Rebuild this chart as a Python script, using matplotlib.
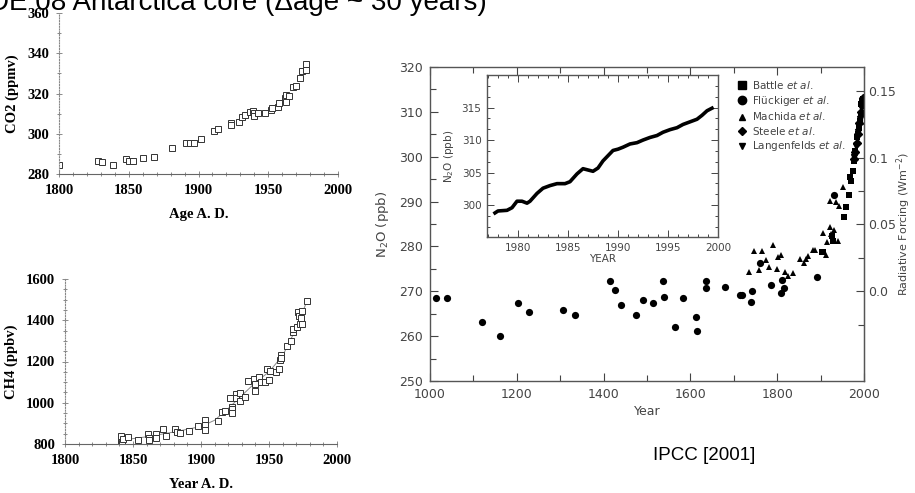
import matplotlib
matplotlib.use("Agg")
import matplotlib.pyplot as plt
from matplotlib.ticker import MultipleLocator, FixedLocator
from matplotlib.lines import Line2D

# ---- DE08 Antarctica core, CO2 ----
co2_year = [1800, 1828, 1831, 1839, 1848, 1850, 1853, 1860, 1868, 1881, 1891, 1894,
            1897, 1902, 1911, 1914, 1923, 1923, 1929, 1931, 1933, 1937, 1939, 1940,
            1940, 1943, 1948, 1952, 1953, 1957, 1958, 1962, 1962.5, 1963, 1965, 1968,
            1970, 1973, 1974.5, 1977, 1977]
co2_ppmv = [284.5, 286.5, 286.0, 284.5, 287.6, 286.6, 286.3, 288.0, 288.6, 293.0, 295.6, 295.6,
            295.6, 297.4, 301.6, 302.2, 305.5, 304.5, 305.7, 308.2, 309.4, 311.0, 311.5, 310.5,
            308.8, 310.2, 310.5, 311.8, 313.0, 313.5, 315.5, 317.6, 319.3, 316.0, 319.0, 323.0,
            323.8, 327.6, 331.0, 331.7, 334.7]

# ---- DE08 Antarctica core, CH4 ----
ch4_year = [1841, 1841, 1842, 1843, 1846, 1854, 1861, 1862, 1862, 1867, 1867, 1872,
            1874.5, 1881, 1882, 1884.5, 1891, 1898, 1903, 1903, 1903, 1912.5, 1915.6, 1918,
            1921, 1922.5, 1922.5, 1922.5, 1926, 1926, 1928.6, 1928.6, 1932, 1934.5, 1939, 1940,
            1940, 1942.5, 1944, 1947, 1948.7, 1950, 1951, 1955, 1957.5, 1958, 1959, 1959,
            1963, 1966, 1967.5, 1968, 1970.7, 1971, 1971.8, 1972.6, 1973.6, 1974.3, 1974.3, 1978]
ch4_ppbv = [840, 811, 803, 823, 832, 818, 847, 828, 820, 847, 829, 873,
            840, 873, 860, 853, 862, 886, 918, 894, 868, 913, 957, 962,
            1023, 981, 968, 949, 1041, 1022, 1049, 1010, 1030, 1106, 1114, 1090,
            1059, 1124, 1101, 1101, 1164, 1111, 1155, 1151, 1164, 1208, 1232, 1216,
            1276, 1300, 1341, 1357, 1367, 1438, 1419, 1383, 1410, 1443, 1383, 1495]
ch4_fit_year = [1841, 1860, 1880, 1900, 1910, 1920, 1930, 1940, 1950, 1960, 1970, 1978]
ch4_fit_ppbv = [818, 835, 858, 885, 915, 972, 1035, 1098, 1150, 1228, 1360, 1495]

# ---- IPCC 2001, N2O ----
flueckiger_year = [1014, 1040, 1119, 1162, 1203, 1228, 1306, 1333, 1414, 1427, 1440, 1475,
                   1491, 1514, 1538, 1539, 1564, 1582, 1614, 1616, 1635, 1637, 1679, 1714,
                   1720, 1739, 1741, 1760, 1786, 1808, 1810, 1815, 1891, 1932]
flueckiger_n2o = [268.5, 268.5, 263.2, 260.1, 267.5, 265.4, 265.8, 264.8, 272.3, 270.2, 266.9, 264.8,
                  268.1, 267.3, 272.4, 268.7, 262.1, 268.4, 264.2, 261.2, 270.7, 272.3, 270.9, 269.1,
                  269.1, 267.6, 270.1, 276.3, 271.3, 269.6, 272.6, 270.8, 273.2, 291.5]
machida_year = [1736, 1746, 1758, 1766, 1775, 1781, 1790, 1800, 1801, 1809, 1817, 1826,
                1836, 1853, 1861, 1867, 1872, 1882, 1888, 1905, 1913, 1914, 1922, 1924,
                1932, 1940, 1922, 1936, 1943, 1951]
machida_n2o = [274.3, 278.9, 274.7, 278.9, 276.9, 275.4, 280.4, 275.0, 277.6, 278.2, 274.2, 273.4,
               274.1, 277.1, 276.3, 277.3, 277.8, 279.1, 279.3, 283.0, 278.0, 281.0, 284.3, 282.7,
               283.7, 281.1, 290.2, 289.8, 289.1, 293.3]
battle_year = [1903, 1906, 1926, 1929, 1954, 1958, 1966, 1968, 1970, 1974, 1977, 1979,
               1983, 1986, 1988, 1990, 1992, 1994, 1996, 1997]
battle_n2o = [278.7, 278.7, 282.3, 281.2, 286.5, 288.7, 291.5, 295.4, 294.5, 296.9, 299.1, 301.3,
              304.3, 305.0, 306.5, 308.0, 309.5, 311.7, 312.3, 312.8]
steele_year = [1978, 1980, 1983, 1986, 1989, 1992, 1995, 1997]
steele_n2o = [299.5, 301.0, 303.0, 305.0, 307.5, 310.0, 311.5, 313.0]
langenfelds_year = [1978, 1982, 1986, 1990, 1994, 1996]
langenfelds_n2o = [300.0, 302.5, 305.5, 308.5, 311.0, 312.5]

# ---- inset: modern N2O record ----
inset_year = [1977.7, 1978.0, 1978.9, 1979.4, 1979.9, 1980.4, 1980.9, 1981.2, 1981.9, 1982.5,
              1983.2, 1983.9, 1984.7, 1985.2, 1985.9, 1986.5, 1987.0, 1987.5, 1988.0, 1988.5,
              1989.0, 1989.5, 1990.0, 1990.5, 1991.2, 1991.9, 1992.5, 1993.2, 1993.9, 1994.5,
              1995.2, 1995.9, 1996.5, 1997.2, 1997.9, 1998.4, 1998.9, 1999.4]
inset_n2o = [298.8, 299.1, 299.2, 299.6, 300.6, 300.6, 300.3, 300.6, 301.8, 302.6,
             303.0, 303.3, 303.3, 303.6, 304.8, 305.6, 305.4, 305.2, 305.7, 306.8,
             307.6, 308.4, 308.6, 308.9, 309.4, 309.6, 310.0, 310.4, 310.7, 311.2,
             311.6, 311.9, 312.4, 312.8, 313.2, 313.8, 314.5, 314.9]

W, H = 915, 493
fig = plt.figure(figsize=(W / 100, H / 100), dpi=100)

def box(x0, y0, x1, y1):
    # pixel box -> figure fraction
    return [x0 / W, 1 - y1 / H, (x1 - x0) / W, (y1 - y0) / H]

serif = {'family': 'Liberation Serif', 'weight': 'bold'}
grey = '#333333'

# title, clipped at the top of the figure
fig.text(-0.012, 1 - 10 / H, "DE 08 Antarctica core (\u0394age ~ 30 years)",
         fontsize=20, family='Liberation Sans', va='baseline', ha='left')

def left_panel(ax):
    for s in ['top', 'right']:
        ax.spines[s].set_visible(False)
    ax.spines['left'].set_linestyle((0, (1, 1.5)))
    ax.spines['left'].set_color('#888888')
    ax.spines['left'].set_linewidth(0.8)
    ax.spines['bottom'].set_color('#666666')
    ax.spines['bottom'].set_linewidth(0.8)
    ax.tick_params(which='both', direction='inout', colors='#777777', labelcolor='black',
                   width=0.6)
    ax.tick_params(which='major', length=4, pad=5)
    ax.tick_params(which='minor', length=2.5)
    for lab in ax.get_xticklabels() + ax.get_yticklabels():
        lab.set_fontproperties(serif)
        lab.set_fontsize(10.5)

# CO2 panel
ax1 = fig.add_axes(box(59, 13, 338, 174))
ax1.plot(co2_year, co2_ppmv, 's', ms=5, mfc='white', mec=grey, mew=0.7)
ax1.set_xlim(1800, 2000)
ax1.set_ylim(280, 360)
ax1.xaxis.set_major_locator(MultipleLocator(50))
ax1.xaxis.set_minor_locator(MultipleLocator(10))
ax1.yaxis.set_major_locator(MultipleLocator(20))
ax1.yaxis.set_minor_locator(MultipleLocator(10))
left_panel(ax1)
ax1.set_xlabel("Age A. D.", fontdict=serif, fontsize=10.5, labelpad=8)
ax1.set_ylabel("CO2 (ppmv)", fontdict=serif, fontsize=10.5, labelpad=6)

# CH4 panel
ax2 = fig.add_axes(box(65, 279, 337, 444))
ax2.plot(ch4_fit_year, ch4_fit_ppbv, '-', color='#888888', lw=0.7)
ax2.plot(ch4_year, ch4_ppbv, 's', ms=5, mfc='white', mec=grey, mew=0.7)
ax2.set_xlim(1800, 2000)
ax2.set_ylim(800, 1600)
ax2.xaxis.set_major_locator(MultipleLocator(50))
ax2.xaxis.set_minor_locator(MultipleLocator(10))
ax2.yaxis.set_major_locator(MultipleLocator(200))
ax2.yaxis.set_minor_locator(MultipleLocator(50))
left_panel(ax2)
ax2.set_xlabel("Year A. D.", fontdict=serif, fontsize=10.5, labelpad=8)
ax2.set_ylabel("CH4 (ppbv)", fontdict=serif, fontsize=10.5, labelpad=6)

# N2O main panel
tcol = '#444444'
ax3 = fig.add_axes(box(430, 67, 864, 381))
ax3.plot(langenfelds_year, langenfelds_n2o, 'v', ms=4.5, color='black')
ax3.plot(steele_year, steele_n2o, 'D', ms=4, color='black')
ax3.plot(machida_year, machida_n2o, '^', ms=4.2, color='black', mew=0)
ax3.plot(flueckiger_year, flueckiger_n2o, 'o', ms=5.2, color='black', mew=0)
ax3.plot(battle_year, battle_n2o, 's', ms=5, color='black', mew=0)
ax3.set_xlim(1000, 2000)
ax3.set_ylim(250, 320)
ax3.xaxis.set_major_locator(MultipleLocator(200))
ax3.xaxis.set_minor_locator(MultipleLocator(100))
ax3.yaxis.set_major_locator(MultipleLocator(10))
ax3.yaxis.set_minor_locator(MultipleLocator(5))
ax3.tick_params(which='both', direction='in', top=True, right=False, colors=tcol,
                labelsize=9, width=0.8)
ax3.tick_params(which='major', length=6, pad=5)
ax3.tick_params(which='minor', length=4)
for s in ax3.spines.values():
    s.set_color('#555555')
    s.set_linewidth(1.0)
ax3.set_xlabel("Year", color=tcol, fontsize=9, labelpad=3)
ax3.set_ylabel("N$_2$O (ppb)", color=tcol, fontsize=9.5, labelpad=6)

rf = ax3.secondary_yaxis('right', functions=(lambda n: (n - 270) / 298.0,
                                             lambda r: 270 + 298.0 * r))
rf.yaxis.set_major_locator(FixedLocator([0.0, 0.05, 0.1, 0.15]))
rf.yaxis.set_minor_locator(FixedLocator([-0.025, 0.025, 0.075, 0.125]))
rf.set_yticklabels(['0.0', '0.05', '0.1', '0.15'])
rf.tick_params(which='both', direction='in', colors=tcol, labelsize=9, width=0.8)
rf.tick_params(which='major', length=6, pad=3)
rf.tick_params(which='minor', length=4)
rf.spines['right'].set_color('#555555')
rf.set_ylabel("Radiative Forcing (Wm$^{-2}$)", color=tcol, fontsize=8, labelpad=-1)

handles = [
    Line2D([], [], ls='', marker='s', ms=6, color='black'),
    Line2D([], [], ls='', marker='o', ms=6, color='black'),
    Line2D([], [], ls='', marker='^', ms=5, color='black'),
    Line2D([], [], ls='', marker='D', ms=4.5, color='black'),
    Line2D([], [], ls='', marker='v', ms=5, color='black'),
]
labels = [r"Battle $\it{et\ al.}$", "Fl\u00fcckiger $\\it{et\\ al.}$",
          r"Machida $\it{et\ al.}$", r"Steele $\it{et\ al.}$", r"Langenfelds $\it{et\ al.}$"]
leg = ax3.legend(handles, labels, loc='upper left', bbox_to_anchor=(0.7, 0.975),
                 frameon=False, fontsize=7.5, handlelength=0.8, handletextpad=0.5,
                 labelspacing=0.25, borderaxespad=0)
for t in leg.get_texts():
    t.set_color(tcol)

# inset
ax4 = fig.add_axes(box(487, 75, 718, 237))
ax4.plot(inset_year, inset_n2o, '-', color='black', lw=2.6)
ax4.set_xlim(1976.9, 2000.0)
ax4.set_ylim(295.1, 320)
ax4.xaxis.set_major_locator(MultipleLocator(5))
ax4.xaxis.set_minor_locator(MultipleLocator(1))
ax4.yaxis.set_major_locator(MultipleLocator(5))
ax4.yaxis.set_minor_locator(MultipleLocator(5 / 3))
ax4.set_yticks([300, 305, 310, 315])
ax4.tick_params(which='both', direction='in', top=True, right=True, colors=tcol,
                labelsize=7.5, width=0.7)
ax4.tick_params(which='major', length=5, pad=4)
ax4.tick_params(which='minor', length=2.5)
for s in ax4.spines.values():
    s.set_color('#555555')
    s.set_linewidth(1.0)
ax4.set_xlabel("YEAR", color=tcol, fontsize=7.5, labelpad=1)
ax4.set_ylabel("N$_2$O (ppb)", color=tcol, fontsize=7.5, labelpad=4)

fig.text(704 / W, 1 - 456 / H, "IPCC [2001]", fontsize=13.5, family='Liberation Sans',
         ha='center', va='center')

fig.savefig("out.png", dpi=100)
